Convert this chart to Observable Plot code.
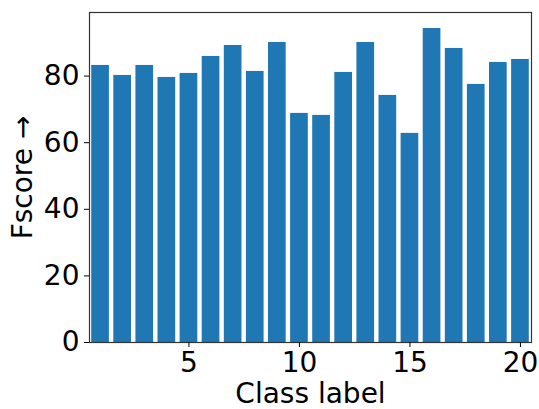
<!DOCTYPE html>
<html><head><meta charset="utf-8">
<script src="https://cdn.jsdelivr.net/npm/d3@7"></script>
<script src="https://cdn.jsdelivr.net/npm/@observablehq/plot@0.6"></script>
<style>body{margin:0;background:#fff}</style>
</head><body><div id="chart"></div>
<script>
const classes = [1, 2, 3, 4, 5, 6, 7, 8, 9, 10, 11, 12, 13, 14, 15, 16, 17, 18, 19, 20];
const fscores = [83.2, 80.2, 83.2, 79.6, 80.8, 85.9, 89.2, 81.4, 90.1, 68.8, 68.2, 81.1, 90.1, 74.2, 62.8, 94.3, 88.3, 77.5, 84.1, 85.0];
const xTicks = [5, 10, 15, 20];
const yTicks = [0, 20, 40, 60, 80];
const barWidth = 0.8;
const data = classes.map((c, i) => ({c, f: fscores[i]}));
const chart = Plot.plot({
  width: 539, height: 409,
  marginLeft: 89, marginRight: 8, marginTop: 12, marginBottom: 67,
  style: {fontFamily: "DejaVu Sans", fontSize: "28px", background: "#fff", color: "#000", overflow: "visible"},
  x: {domain: [0.5, 20.5]},
  y: {domain: [0, 99.1]},
  marks: [
    Plot.rectY(data, {x1: d => d.c - barWidth / 2, x2: d => d.c + barWidth / 2, y: "f", fill: "#1f77b4"}),
    Plot.frame({stroke: "#333", strokeWidth: 1.2}),
    Plot.axisX({ticks: xTicks, tickSize: 5, tickPadding: 5, fontSize: 28, label: "Class label", labelAnchor: "center", labelArrow: "none", labelOffset: 60}),
    Plot.axisY({ticks: yTicks, tickSize: 5, tickPadding: 5, fontSize: 28, label: "Fscore →", labelAnchor: "center", labelArrow: "none", labelOffset: 77})
  ]
});
document.getElementById("chart").append(chart);
</script>
</body></html>
